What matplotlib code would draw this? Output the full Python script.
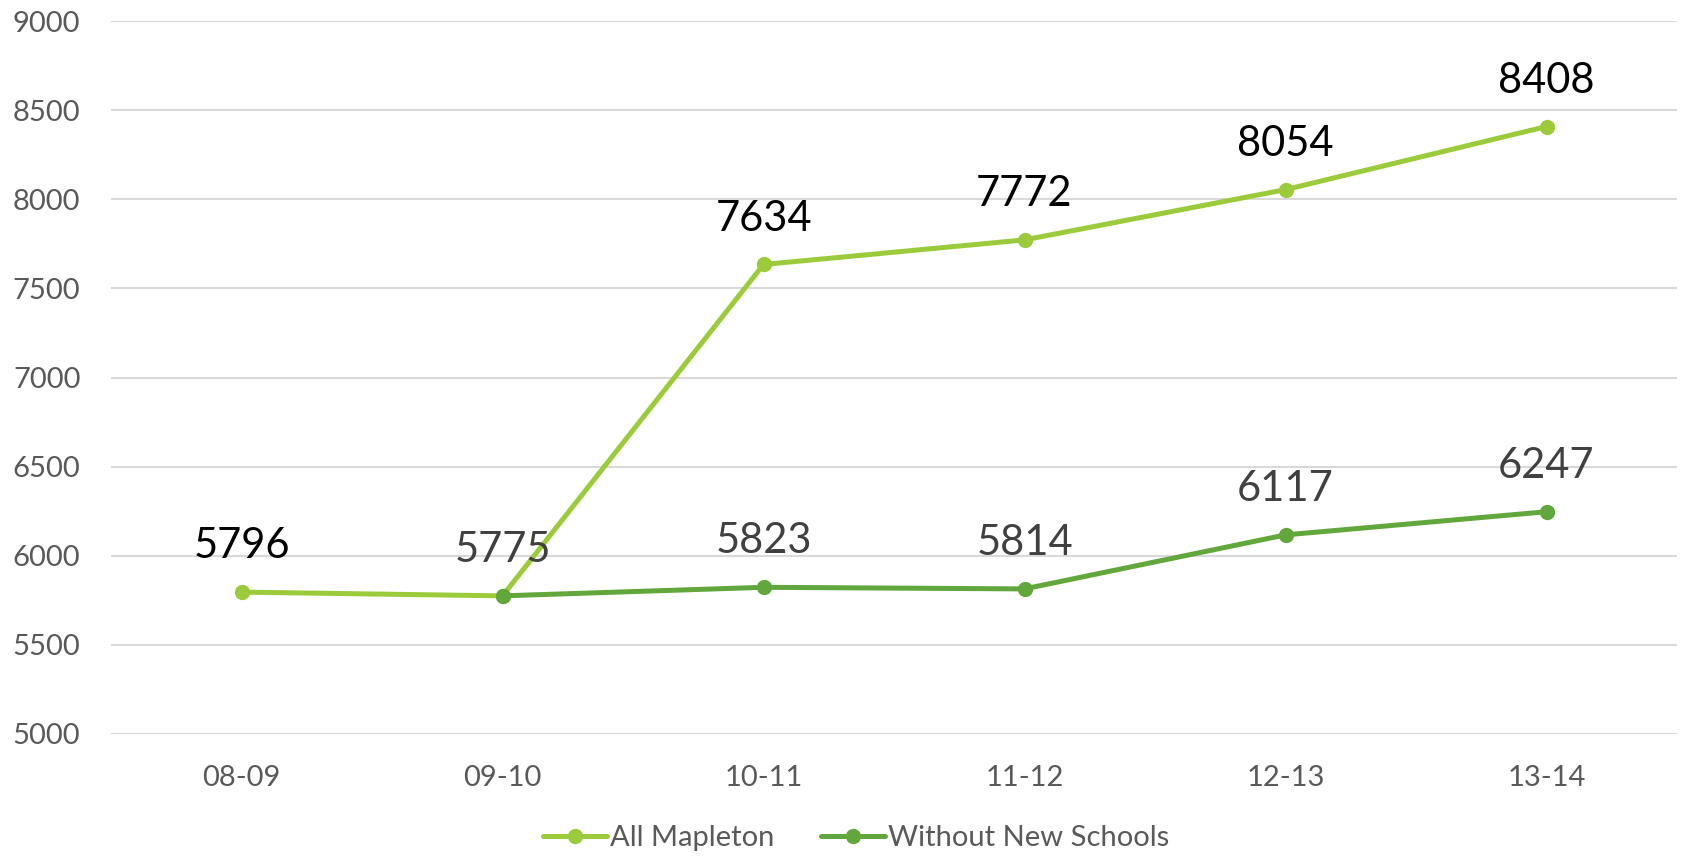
import matplotlib
matplotlib.use("Agg")
import matplotlib.pyplot as plt
import numpy as np

plt.rcParams['font.family'] = ['Lato', 'DejaVu Sans']

years = ['08-09', '09-10', '10-11', '11-12', '12-13', '13-14']
all_mapleton = [5796, 5775, 7634, 7772, 8054, 8408]
# no figure for the first year without the new schools
without_new = [np.nan, 5775, 5823, 5814, 6117, 6247]

light = '#9BCB3B'
dark = '#62A73B'
tick_grey = '#595959'

fig = plt.figure(figsize=(16.88, 8.56), dpi=100)
ax = fig.add_axes([111 / 1688, 122 / 856, 1566 / 1688, 713 / 856])

x = np.arange(len(years))
ax.plot(x, all_mapleton, color=light, lw=3.6, marker='o', ms=10,
        label='All Mapleton', zorder=3, solid_capstyle='round')
ax.plot(x, without_new, color=dark, lw=3.6, marker='o', ms=10,
        label='Without New Schools', zorder=4, solid_capstyle='round')

# value labels above each point; the shared 09-10 value is labelled once
for i, v in enumerate(all_mapleton):
    if not np.isnan(without_new[i]) and without_new[i] == v:
        continue
    ax.annotate(str(v), (x[i], v), xytext=(0, 33), textcoords='offset points',
                ha='center', va='center', fontsize=30, color='black', zorder=5)
for i, v in enumerate(without_new):
    if np.isnan(v):
        continue
    ax.annotate(str(int(v)), (x[i], v), xytext=(0, 33), textcoords='offset points',
                ha='center', va='center', fontsize=30, color='#404040', zorder=5)

ax.set_xlim(-0.5, len(years) - 0.5)
ax.set_ylim(5000, 9000)
ax.set_yticks(np.arange(5000, 9001, 500))
ax.set_xticks(x)
ax.set_xticklabels(years)
ax.grid(axis='y', color='#D9D9D9', lw=1.5)
ax.set_axisbelow(True)
for s in ax.spines.values():
    s.set_visible(False)
ax.tick_params(axis='both', length=0, labelsize=21, colors=tick_grey)
ax.tick_params(axis='y', pad=22)
ax.tick_params(axis='x', pad=22)

fig.legend(loc='center', bbox_to_anchor=(856 / 1688, 18 / 856), ncol=2,
           frameon=False, fontsize=21, labelcolor=tick_grey, handlelength=2.2,
           handletextpad=0.1, columnspacing=1.6)

fig.savefig('out.png', dpi=100)
